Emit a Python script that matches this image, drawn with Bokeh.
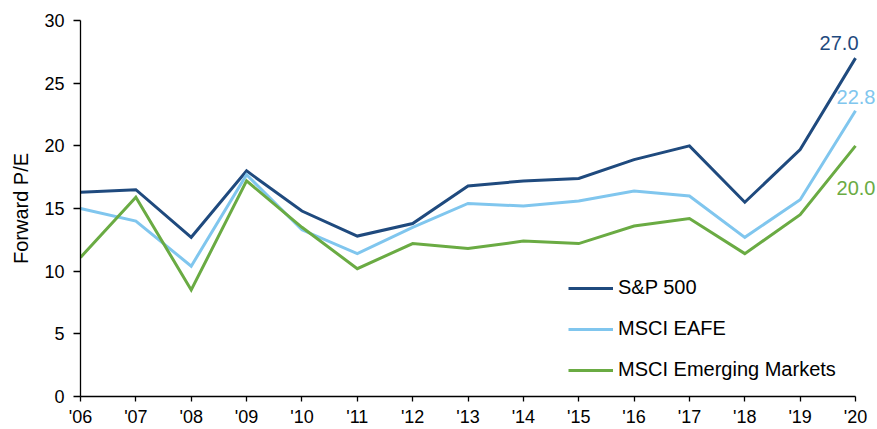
from bokeh.plotting import figure
from bokeh.models import FixedTicker, Legend, LegendItem, Label, Range1d
from bokeh.embed import file_html
from bokeh.resources import INLINE

years = list(range(2006, 2021))
tick_labels = ["'06", "'07", "'08", "'09", "'10", "'11", "'12", "'13", "'14",
               "'15", "'16", "'17", "'18", "'19", "'20"]
sp500 = [16.3, 16.5, 12.7, 18.0, 14.8, 12.8, 13.8, 16.8, 17.2, 17.4, 18.9, 20.0, 15.5, 19.7, 27.0]
eafe = [15.0, 14.0, 10.4, 17.7, 13.3, 11.4, 13.5, 15.4, 15.2, 15.6, 16.4, 16.0, 12.7, 15.7, 22.8]
em = [11.1, 15.9, 8.5, 17.2, 13.5, 10.2, 12.2, 11.8, 12.4, 12.2, 13.6, 14.2, 11.4, 14.5, 20.0]
series_names = ["S&P 500", "MSCI EAFE", "MSCI Emerging Markets"]
y_ticks = [0, 5, 10, 15, 20, 25, 30]

colors = ["#1f4a7e", "#80c6ee", "#6aab43"]
FONT = "Liberation Sans"

# frame extends right of the last year so the end labels are not clipped
p = figure(frame_width=797, frame_height=376, output_backend="svg",
           toolbar_location=None, x_range=Range1d(years[0], years[-1] + 0.397),
           y_range=Range1d(0, 30), min_border_left=80, min_border_top=20,
           min_border_right=0, min_border_bottom=20)
p.outline_line_color = None
p.xgrid.visible = False
p.ygrid.visible = False
p.background_fill_color = "white"
p.border_fill_color = "white"

renderers = []
for vals, c in zip([sp500, eafe, em], colors):
    r = p.line(years, vals, line_color=c, line_width=3, line_join="miter")
    renderers.append(r)

legend = Legend(items=[LegendItem(label=n, renderers=[r]) for n, r in zip(series_names, renderers)],
                location=(488, 15), border_line_color=None, background_fill_alpha=0,
                padding=0, margin=0, spacing=18, glyph_width=45, glyph_height=20,
                label_standoff=5, label_text_font=FONT, label_text_font_size="20px",
                label_text_color="#000000")
p.add_layout(legend)

# axes
p.xaxis.ticker = FixedTicker(ticks=years)
p.xaxis.bounds = (years[0], years[-1])
p.xaxis.major_label_overrides = {y: t for y, t in zip(years, tick_labels)}
p.yaxis.ticker = FixedTicker(ticks=y_ticks)
for ax in (p.xaxis[0], p.yaxis[0]):
    ax.axis_line_color = "#000000"
    ax.axis_line_width = 1.3
    ax.major_tick_line_color = "#000000"
    ax.major_tick_line_width = 1.3
    ax.minor_tick_line_color = None
    ax.major_tick_in = 0
    ax.major_label_text_font = FONT
    ax.major_label_text_font_size = "18px"
    ax.major_label_text_color = "#000000"
p.xaxis.major_tick_out = 5
p.xaxis.major_label_standoff = 5
p.yaxis.major_tick_out = 7
p.yaxis.major_label_standoff = 9
p.yaxis.axis_label = "Forward P/E"
p.yaxis.axis_label_text_font = FONT
p.yaxis.axis_label_text_font_size = "20px"
p.yaxis.axis_label_text_font_style = "normal"
p.yaxis.axis_label_text_color = "#000000"
p.yaxis.axis_label_standoff = 9

# end labels
last_vals = [sp500[-1], eafe[-1], em[-1]]
label_style = [("right", 3, 15), ("left", -19, 14), ("left", -19, -42)]
for v, c, (al, xo, yo) in zip(last_vals, colors, label_style):
    p.add_layout(Label(x=years[-1], y=v, text=f"{v:.1f}", text_color=c,
                       text_font=FONT, text_font_size="20px", text_align=al,
                       text_baseline="alphabetic", x_offset=xo, y_offset=yo))

open("out.html", "w").write(file_html(p, INLINE))
